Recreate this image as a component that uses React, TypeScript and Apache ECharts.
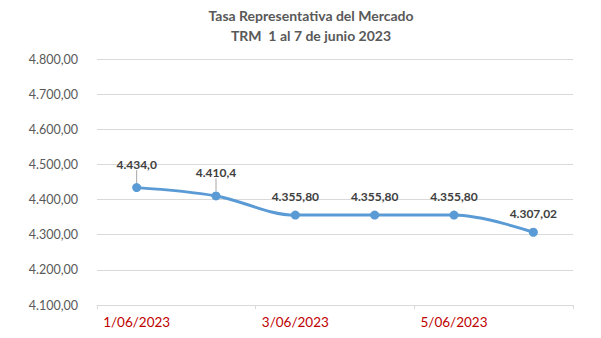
import React, { useEffect, useRef } from "react";
import * as echarts from "echarts";

const titleLines = ["Tasa Representativa del Mercado", "TRM  1 al 7 de junio 2023"];
const categories = ["1/06/2023", "2/06/2023", "3/06/2023", "4/06/2023", "5/06/2023", "6/06/2023"];
const values = [4434.0, 4410.4, 4355.8, 4355.8, 4355.8, 4307.02];
const valueLabels = ["4.434,0", "4.410,4", "4.355,80", "4.355,80", "4.355,80", "4.307,02"];
const leaderIdx = [0, 1];
const yMin = 4100;
const yMax = 4800;
const yStep = 100;

function fmtY(v: number): string {
  const intPart = Math.floor(v).toString().replace(/\B(?=(\d{3})+(?!\d))/g, ".");
  return intPart + ",00";
}

export default function App() {
  const ref = useRef<HTMLDivElement>(null);
  useEffect(() => {
    if (!ref.current) return;
    const chart = echarts.init(ref.current, null, { renderer: "svg" });
    const font = "Lato, 'Open Sans', sans-serif";
    chart.setOption({
      animation: false,
      backgroundColor: "#ffffff",
      title: {
        text: titleLines.join("\n"),
        left: 311,
        textAlign: "center",
        top: 5,
        padding: 0,
        textStyle: {
          fontFamily: font,
          fontSize: 14,
          fontWeight: "bold",
          color: "#595959",
          lineHeight: 20,
        },
      },
      grid: { left: 97, right: 28, top: 59, bottom: 33, containLabel: false },
      xAxis: {
        type: "category",
        data: categories,
        boundaryGap: true,
        axisLine: { show: true, lineStyle: { color: "#D9D9D9", width: 1 } },
        axisTick: { show: true, interval: 1, length: 4, lineStyle: { color: "#D9D9D9" } },
        axisLabel: {
          interval: 1,
          color: "#C00000",
          fontFamily: font,
          fontSize: 13.5,
          margin: 10,
        },
        splitLine: { show: false },
      },
      yAxis: {
        type: "value",
        min: yMin,
        max: yMax,
        interval: yStep,
        axisLine: { show: false },
        axisTick: { show: false },
        axisLabel: {
          formatter: (v: number) => fmtY(v),
          color: "#595959",
          fontFamily: font,
          fontSize: 12.5,
          margin: 19,
        },
        splitLine: { show: true, lineStyle: { color: "#D9D9D9", width: 1 } },
      },
      series: [
        {
          type: "line",
          data: values.map((v, i) => ({
            value: v,
            labelLine: { show: leaderIdx.includes(i) },
          })),
          smooth: 0.35,
          symbol: "circle",
          symbolSize: 9,
          lineStyle: { color: "#5B9BD5", width: 3 },
          itemStyle: { color: "#5B9BD5" },
          label: {
            show: true,
            position: "top",
            distance: 8,
            formatter: (p: any) => valueLabels[p.dataIndex],
            fontFamily: font,
            fontSize: 12,
            fontWeight: "bold",
            color: "#404040",
          },
          labelLine: { show: false, lineStyle: { color: "#A6A6A6", width: 1 } },
          labelLayout: (p: any) => (leaderIdx.includes(p.dataIndex) ? { dy: -5 } : {}),
        },
      ],
    });
    return () => chart.dispose();
  }, []);
  return (
    <div
      ref={ref}
      style={{ position: "fixed", left: 0, top: 0, width: 601, height: 338 }}
    />
  );
}
